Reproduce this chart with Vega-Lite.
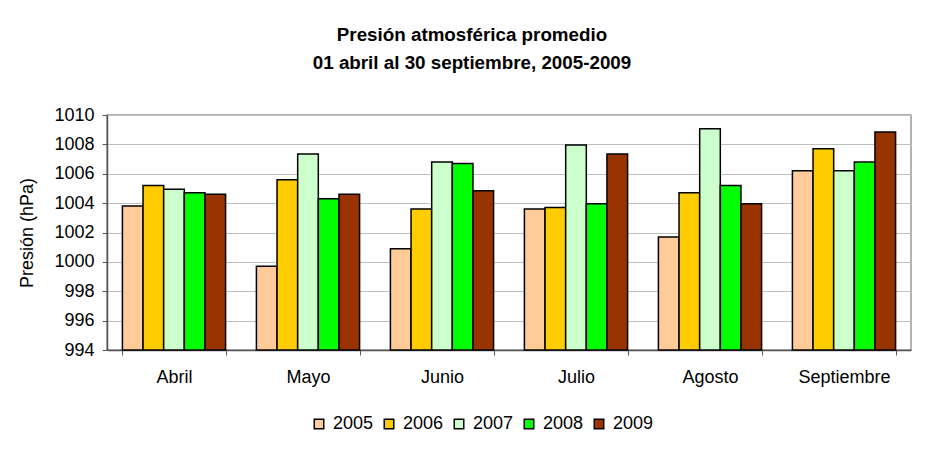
{
  "$schema": "https://vega.github.io/schema/vega-lite/v6.json",
  "width": 804,
  "height": 235,
  "autosize": {"type": "none"},
  "padding": {"left": 107, "top": 115, "right": 34, "bottom": 100},
  "background": "white",
  "config": {
    "font": "Liberation Sans",
    "view": {"stroke": "#9a9a9a", "strokeWidth": 1.5}
  },
  "title": {
    "text": ["Presión atmosférica promedio", "01 abril al 30 septiembre, 2005-2009"],
    "font": "Liberation Sans",
    "fontSize": 18.8,
    "fontWeight": "bold",
    "color": "black",
    "lineHeight": 28,
    "anchor": "middle",
    "dx": -37,
    "offset": 33
  },
  "data": {
    "values": [
      {"mes": "Abril", "anio": "2005", "valor": 1003.8},
      {"mes": "Abril", "anio": "2006", "valor": 1005.2},
      {"mes": "Abril", "anio": "2007", "valor": 1004.95},
      {"mes": "Abril", "anio": "2008", "valor": 1004.7},
      {"mes": "Abril", "anio": "2009", "valor": 1004.6},
      {"mes": "Mayo", "anio": "2005", "valor": 999.7},
      {"mes": "Mayo", "anio": "2006", "valor": 1005.6},
      {"mes": "Mayo", "anio": "2007", "valor": 1007.35},
      {"mes": "Mayo", "anio": "2008", "valor": 1004.3},
      {"mes": "Mayo", "anio": "2009", "valor": 1004.6},
      {"mes": "Junio", "anio": "2005", "valor": 1000.9},
      {"mes": "Junio", "anio": "2006", "valor": 1003.6},
      {"mes": "Junio", "anio": "2007", "valor": 1006.8},
      {"mes": "Junio", "anio": "2008", "valor": 1006.7},
      {"mes": "Junio", "anio": "2009", "valor": 1004.85},
      {"mes": "Julio", "anio": "2005", "valor": 1003.6},
      {"mes": "Julio", "anio": "2006", "valor": 1003.7},
      {"mes": "Julio", "anio": "2007", "valor": 1007.95},
      {"mes": "Julio", "anio": "2008", "valor": 1003.95},
      {"mes": "Julio", "anio": "2009", "valor": 1007.35},
      {"mes": "Agosto", "anio": "2005", "valor": 1001.7},
      {"mes": "Agosto", "anio": "2006", "valor": 1004.7},
      {"mes": "Agosto", "anio": "2007", "valor": 1009.07},
      {"mes": "Agosto", "anio": "2008", "valor": 1005.2},
      {"mes": "Agosto", "anio": "2009", "valor": 1003.95},
      {"mes": "Septiembre", "anio": "2005", "valor": 1006.2},
      {"mes": "Septiembre", "anio": "2006", "valor": 1007.7},
      {"mes": "Septiembre", "anio": "2007", "valor": 1006.2},
      {"mes": "Septiembre", "anio": "2008", "valor": 1006.8},
      {"mes": "Septiembre", "anio": "2009", "valor": 1008.85}
    ]
  },
  "mark": {"type": "bar", "stroke": "black", "strokeWidth": 1.5},
  "encoding": {
    "x": {
      "field": "mes",
      "type": "nominal",
      "sort": ["Abril", "Mayo", "Junio", "Julio", "Agosto", "Septiembre"],
      "scale": {"paddingInner": 0.23, "paddingOuter": 0.115},
      "axis": {
        "title": null,
        "labelAngle": 0,
        "labelFont": "Liberation Sans",
        "labelFontSize": 18,
        "labelColor": "black",
        "labelPadding": 13,
        "tickBand": "extent",
        "tickSize": 5,
        "tickColor": "#555555",
        "domainColor": "#555555",
        "domainWidth": 1.5
      }
    },
    "xOffset": {
      "field": "anio",
      "type": "nominal",
      "scale": {"paddingInner": 0, "paddingOuter": 0}
    },
    "y": {
      "field": "valor",
      "type": "quantitative",
      "scale": {"domain": [994, 1010], "zero": false, "nice": false},
      "axis": {
        "title": "Presión (hPa)",
        "titleFont": "Liberation Sans",
        "titleFontSize": 18,
        "titleFontWeight": "normal",
        "titleColor": "black",
        "titlePadding": 17,
        "format": "d",
        "values": [994, 996, 998, 1000, 1002, 1004, 1006, 1008, 1010],
        "labelFont": "Liberation Sans",
        "labelFontSize": 18,
        "labelColor": "black",
        "labelPadding": 8,
        "tickSize": 5,
        "tickColor": "#555555",
        "domainColor": "#555555",
        "domainWidth": 1.5,
        "grid": true,
        "gridColor": "#c0c0c0",
        "gridWidth": 1
      }
    },
    "y2": {"datum": 994},
    "color": {
      "field": "anio",
      "type": "nominal",
      "scale": {
        "domain": ["2005", "2006", "2007", "2008", "2009"],
        "range": ["#FFCC99", "#FFCC00", "#CCFFCC", "#00FF00", "#993300"]
      },
      "legend": {
        "title": null,
        "orient": "none",
        "legendX": 203,
        "legendY": 300,
        "direction": "horizontal",
        "symbolType": "square",
        "symbolSize": 90,
        "symbolStrokeColor": "black",
        "symbolStrokeWidth": 1.5,
        "symbolOpacity": 1,
        "labelFont": "Liberation Sans",
        "labelFontSize": 18,
        "labelColor": "black",
        "labelOffset": 5,
        "columnPadding": 6
      }
    }
  }
}
